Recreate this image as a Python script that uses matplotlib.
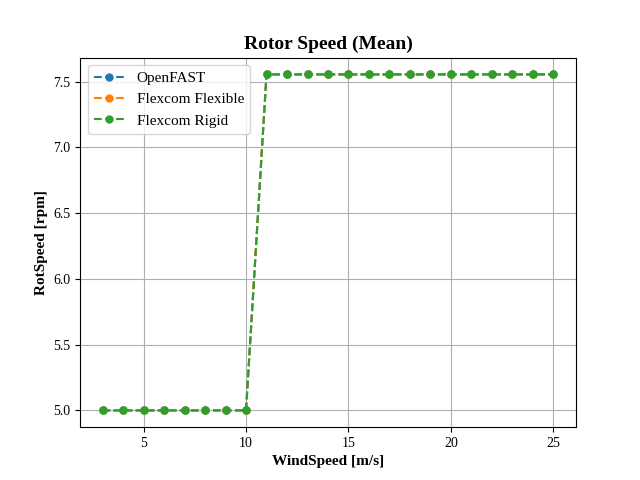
import matplotlib
matplotlib.use('Agg')
import matplotlib.pyplot as plt

plt.rcParams['font.family'] = 'Liberation Serif'

# velocidades de vento e rotacao media do rotor
wind_speed = [3, 4, 5, 6, 7, 8, 9, 10, 11, 12, 13, 14, 15, 16, 17, 18, 19, 20, 21, 22, 23, 24, 25]
openfast = [5.0] * 8 + [7.555] * 15
flexcom_flex = [5.0] * 8 + [7.555] * 15
flexcom_rigid = [5.0] * 8 + [7.555] * 15

fig, ax = plt.subplots(figsize=(6.4, 4.8), dpi=100)
ax.plot(wind_speed, openfast, '--o', markersize=5, label='OpenFAST')
ax.plot(wind_speed, flexcom_flex, '--o', markersize=5, label='Flexcom Flexible')
ax.plot(wind_speed, flexcom_rigid, '--o', markersize=5, label='Flexcom Rigid')

ax.set_title('Rotor Speed (Mean)', fontsize=14, fontweight='bold')
ax.set_xlabel('WindSpeed [m/s]', fontsize=11, fontweight='bold')
ax.set_ylabel('RotSpeed [rpm]', fontsize=11, fontweight='bold')
ax.grid(True)
ax.legend(loc='upper left', fontsize=11)

fig.savefig('out.png')
